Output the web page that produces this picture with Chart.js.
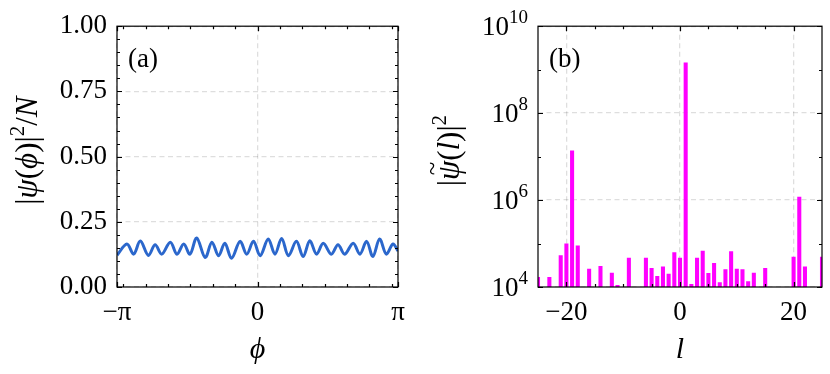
<!DOCTYPE html>
<html lang="en">
<head>
<meta charset="UTF-8">
<title>Ring density and l spectrum</title>
<script src="https://cdn.jsdelivr.net/npm/chart.js"></script>
<style>
  html, body { margin: 0; padding: 0; background: #fff; }
  #wrap { position: relative; width: 830px; height: 374px; }
  canvas { position: absolute; top: 0; }
</style>
</head>
<body>
<div id="wrap">
  <canvas id="densityChart" width="415" height="374" style="left:0"></canvas>
  <canvas id="spectrumChart" width="415" height="374" style="left:415px"></canvas>
</div>
<script>
const PI = Math.PI;

// (a) density around the ring (peaks and troughs)
const phiValues = [-3.14, -2.92, -2.77, -2.62, -2.44, -2.29, -2.14, -1.95, -1.80, -1.65,
  -1.51, -1.36, -1.17, -1.02, -0.87, -0.73, -0.58, -0.39, -0.24, -0.09,
  0.06, 0.24, 0.39, 0.54, 0.69, 0.87, 1.02, 1.17, 1.32, 1.47,
  1.65, 1.80, 1.95, 2.14, 2.29, 2.44, 2.58, 2.73, 2.88, 3.03, 3.14];
const densityValues = [0.122, 0.165, 0.126, 0.176, 0.121, 0.162, 0.126, 0.172, 0.126, 0.165,
  0.126, 0.188, 0.113, 0.172, 0.120, 0.168, 0.110, 0.175, 0.126, 0.175,
  0.120, 0.184, 0.126, 0.186, 0.120, 0.175, 0.117, 0.177, 0.126, 0.168,
  0.126, 0.162, 0.126, 0.168, 0.126, 0.175, 0.117, 0.184, 0.126, 0.165, 0.138];
const phiTicks = [-PI, 0, PI];
const phiTickLabels = ['−π', '0', 'π'];
const phiMinorTicks = [-3, -2.5, -2, -1.5, -1, -0.5, 0.5, 1, 1.5, 2, 2.5, 3];
const densityTicks = [0, 0.25, 0.5, 0.75, 1];
const densityTickLabels = ['0.00', '0.25', '0.50', '0.75', '1.00'];
const densityMinorTicks = [0.05, 0.1, 0.15, 0.2, 0.3, 0.35, 0.4, 0.45, 0.55, 0.6, 0.65, 0.7, 0.8, 0.85, 0.9, 0.95];

// (b) angular momentum spectrum; null = below the 10^4 floor
const lValues = [-25, -24, -23, -22, -21, -20, -19, -18, -17, -16, -15, -14, -13, -12, -11, -10, -9, -8, -7, -6, -5, -4, -3, -2, -1,
  0, 1, 2, 3, 4, 5, 6, 7, 8, 9, 10, 11, 12, 13, 14, 15, 16, 17, 18, 19, 20, 21, 22, 23, 24, 25];
const powerValues = [1.67e4, null, 1.67e4, null, 5.3e4, 9.8e4, 1.36e7, 8.9e4, null, 2.6e4, null, 3.0e4, null, 2.1e4, 1.09e4, null, 4.6e4, null, null, 4.6e4, 2.7e4, 1.76e4, 2.9e4, 1.98e4, 6.2e4,
  4.6e4, 1.43e9, 1.15e4, 4.6e4, 6.7e4, 2.05e4, 3.5e4, 1.27e4, 2.5e4, 6.5e4, 2.6e4, 2.5e4, 1.34e4, 2.1e4, null, 2.7e4, null, null, null, null, 4.9e4, 1.17e6, 2.9e4, null, null, 4.9e4];
const lTicks = [-20, 0, 20];
const lTickLabels = ['−20', '0', '20'];
const lMinorTicks = [-15, -10, -5, 5, 10, 15];
const powerTicks = [1e4, 1e6, 1e8, 1e10];
const powerExponents = ['4', '6', '8', '10'];
const powerMinorTicks = [1e5, 1e7, 1e9];

const FAMILY = "'Liberation Serif', 'DejaVu Serif', serif";
Chart.defaults.font.family = FAMILY;
Chart.defaults.color = '#000';

const gridStyle = { color: 'rgba(0,0,0,0.13)', lineWidth: 1.3, drawTicks: false };
const borderStyle = { display: false, dash: [5, 3.5] };

// segments: [text, size, italic, raise, tilde]
function drawRich(ctx, segs, x, y, align) {
  const fontOf = s => (s[2] ? 'italic ' : '') + s[1] + 'px ' + FAMILY;
  let w = 0;
  segs.forEach(s => { ctx.font = fontOf(s); w += ctx.measureText(s[0]).width; });
  let cx = align === 'right' ? x - w : align === 'center' ? x - w / 2 : x;
  segs.forEach(s => {
    ctx.font = fontOf(s);
    const sw = ctx.measureText(s[0]).width;
    ctx.fillText(s[0], cx, y - (s[3] || 0));
    if (s[4]) {
      ctx.font = Math.round(s[1] * 0.8) + 'px ' + FAMILY;
      const tw = ctx.measureText('~').width;
      ctx.fillText('~', cx + sw / 2 - tw / 2 + 2, y - s[1] * 0.62);
    }
    cx += sw;
  });
}

// frame, inward ticks, panel letter, rich y title and power tick labels
const framePlugin = {
  id: 'framePlugin',
  afterDatasetsDraw(chart, args, opts) {
    const { ctx, chartArea: a, scales: { x, y } } = chart;
    ctx.save();
    ctx.strokeStyle = '#000';
    ctx.lineWidth = 1.2;
    ctx.beginPath();
    const xMarks = (vals, len) => vals.forEach(v => {
      const px = Math.round(x.getPixelForValue(v)) + 0.5;
      ctx.moveTo(px, a.bottom); ctx.lineTo(px, a.bottom - len);
      ctx.moveTo(px, a.top); ctx.lineTo(px, a.top + len);
    });
    const yMarks = (vals, len) => vals.forEach(v => {
      const py = Math.round(y.getPixelForValue(v)) + 0.5;
      ctx.moveTo(a.left, py); ctx.lineTo(a.left + len, py);
      ctx.moveTo(a.right, py); ctx.lineTo(a.right - len, py);
    });
    xMarks(opts.xMajor, 5); xMarks(opts.xMinor, 3);
    yMarks(opts.yMajor, 5); yMarks(opts.yMinor, 3);
    ctx.stroke();
    ctx.strokeRect(a.left, a.top, a.right - a.left, a.bottom - a.top);

    ctx.fillStyle = '#000';
    ctx.textBaseline = 'alphabetic';
    ctx.textAlign = 'left';
    ctx.font = '27px ' + FAMILY;
    ctx.textBaseline = 'middle';
    ctx.fillText(opts.label, a.left + 11, a.top + 34);
    ctx.textBaseline = 'alphabetic';

    if (opts.powerLabels) {
      opts.yMajor.forEach((v, i) => {
        const py = y.getPixelForValue(v);
        drawRich(ctx, [['10', 27], [opts.powerLabels[i], 19, false, 12]], a.left - 10, py + 9, 'right');
      });
    }

    ctx.save();
    ctx.translate(opts.titleX, (a.top + a.bottom) / 2 - 6);
    ctx.rotate(-PI / 2);
    drawRich(ctx, opts.title, 0, 10, 'center');
    ctx.restore();
    ctx.restore();
  }
};

const tickFont = { size: 27 };
const titleFont = { size: 30, style: 'italic' };

new Chart(document.getElementById('densityChart'), {
  type: 'line',
  data: {
    datasets: [{
      data: phiValues.map((p, i) => ({ x: p, y: densityValues[i] })),
      borderColor: '#2b67cc',
      borderWidth: 3,
      pointRadius: 0,
      tension: 0.35,
      fill: false
    }]
  },
  options: {
    responsive: false,
    animation: false,
    layout: { padding: { top: 18, right: 17, left: 0, bottom: 0 } },
    plugins: {
      legend: { display: false },
      tooltip: { enabled: false },
      framePlugin: {
        label: '(a)', xMajor: phiTicks, xMinor: phiMinorTicks, yMajor: densityTicks, yMinor: densityMinorTicks,
        titleX: 27,
        title: [['|', 31], ['ψ', 31, true], ['(', 31], ['ϕ', 31, true], [')|', 31], ['2', 21, false, 13], ['/', 31], ['N', 31, true]]
      }
    },
    scales: {
      x: {
        type: 'linear', min: -PI, max: PI,
        afterBuildTicks: s => { s.ticks = phiTicks.map(v => ({ value: v })); },
        afterFit: s => { s.height = 87; },
        ticks: { font: tickFont, padding: 10, maxRotation: 0, autoSkip: false,
          callback: (v, i) => phiTickLabels[i] },
        grid: gridStyle,
        border: borderStyle,
        title: { display: true, text: 'ϕ', font: titleFont, padding: { top: 0, bottom: 6 } }
      },
      y: {
        type: 'linear', min: 0, max: 1,
        afterBuildTicks: s => { s.ticks = densityTicks.map(v => ({ value: v })); },
        afterFit: s => { s.width = 117; },
        ticks: { font: tickFont, padding: 10, autoSkip: false,
          callback: (v, i) => densityTickLabels[i] },
        grid: gridStyle,
        border: borderStyle
      }
    }
  },
  plugins: [framePlugin]
});

new Chart(document.getElementById('spectrumChart'), {
  type: 'bar',
  data: {
    datasets: [{
      data: lValues.map((l, i) => ({ x: l, y: powerValues[i] })),
      backgroundColor: '#ff00ff',
      borderWidth: 0,
      barThickness: 3.4
    }]
  },
  options: {
    responsive: false,
    animation: false,
    layout: { padding: { top: 18, right: 8, left: 0, bottom: 0 } },
    plugins: {
      legend: { display: false },
      tooltip: { enabled: false },
      framePlugin: {
        label: '(b)', xMajor: lTicks, xMinor: lMinorTicks, yMajor: powerTicks, yMinor: powerMinorTicks,
        powerLabels: powerExponents,
        titleX: 34,
        title: [['|', 31], ['ψ', 31, true, 0, true], ['(', 31], ['l', 31, true], [')|', 31], ['2', 21, false, 13]]
      }
    },
    scales: {
      x: {
        type: 'linear', min: -25, max: 25, offset: false,
        afterBuildTicks: s => { s.ticks = lTicks.map(v => ({ value: v })); },
        afterFit: s => { s.height = 87; },
        ticks: { font: tickFont, padding: 10, maxRotation: 0, autoSkip: false,
          callback: (v, i) => lTickLabels[i] },
        grid: Object.assign({ offset: false }, gridStyle),
        border: borderStyle,
        title: { display: true, text: 'l', font: titleFont, padding: { top: 0, bottom: 6 } }
      },
      y: {
        type: 'logarithmic', min: 1e4, max: 1e10,
        afterBuildTicks: s => { s.ticks = powerTicks.map(v => ({ value: v })); },
        afterFit: s => { s.width = 123; },
        ticks: { font: tickFont, padding: 10, autoSkip: false, callback: () => '' },
        grid: gridStyle,
        border: borderStyle
      }
    }
  },
  plugins: [framePlugin]
});
</script>
</body>
</html>
